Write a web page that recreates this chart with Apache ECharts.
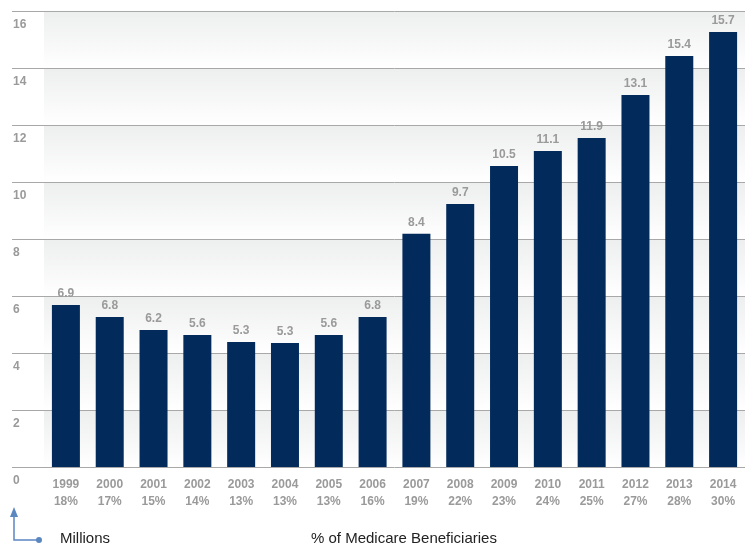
<!DOCTYPE html>
<html>
<head>
<meta charset="utf-8">
<script src="https://cdn.jsdelivr.net/npm/echarts@6/dist/echarts.min.js"></script>
<style>
  html, body { margin: 0; padding: 0; background: #fff; }
  #chart { width: 745px; height: 547px; }
</style>
</head>
<body>
<div id="chart"></div>
<script>
// data
var years = ['1999','2000','2001','2002','2003','2004','2005','2006','2007','2008','2009','2010','2011','2012','2013','2014'];
var pctBeneficiaries = ['18%','17%','15%','14%','13%','13%','13%','16%','19%','22%','23%','24%','25%','27%','28%','30%'];
// bar heights as drawn (millions)
var barHeights = [5.68, 5.26, 4.81, 4.63, 4.39, 4.35, 4.63, 5.26, 8.18, 9.23, 10.56, 11.09, 11.54, 13.05, 14.42, 15.26];
// numbers printed above the bars
var barLabels = ['6.9','6.8','6.2','5.6','5.3','5.3','5.6','6.8','8.4','9.7','10.5','11.1','11.9','13.1','15.4','15.7'];
var yTicks = [0, 2, 4, 6, 8, 10, 12, 14, 16];

var gray = '#9a9a9a';
var navy = '#022b5c';
var blue = '#5b87c1';
var gridColor = '#a8a8a8';
var labelFont = '"Liberation Sans Narrow", "Liberation Sans", Arial, sans-serif';

var chart = echarts.init(document.getElementById('chart'));

function bandFill() {
    return new echarts.graphic.LinearGradient(0, 0, 0, 1, [
        { offset: 0, color: '#edeeee' },
        { offset: 1, color: '#ffffff' }
    ]);
}

var option = {
    animation: false,
    grid: [
        // narrow strip on the left that carries the tick labels
        { left: 12, width: 32, top: 11, bottom: 80 },
        // plot area with the bars
        { left: 44, width: 704, top: 11, bottom: 80 }
    ],
    xAxis: [
        { gridIndex: 0, type: 'value', show: false, min: 0, max: 1 },
        {
            gridIndex: 1,
            type: 'category',
            data: years,
            axisLine: { show: false },
            axisTick: { show: false },
            axisLabel: {
                margin: 9,
                color: gray,
                fontFamily: labelFont,
                fontWeight: 'bold',
                fontSize: 12,
                lineHeight: 17,
                formatter: function (v, i) {
                    return v + '\n' + pctBeneficiaries[i];
                }
            }
        }
    ],
    yAxis: [
        {
            gridIndex: 0,
            type: 'value',
            min: yTicks[0],
            max: yTicks[yTicks.length - 1],
            interval: 2,
            axisLine: { show: false },
            axisTick: { show: false },
            splitLine: { show: true, lineStyle: { color: gridColor, width: 1 } },
            axisLabel: {
                inside: true,
                margin: 1,
                verticalAlign: 'top',
                padding: [8, 0, 0, 0],
                color: gray,
                fontFamily: labelFont,
                fontWeight: 'bold',
                fontSize: 12
            }
        },
        {
            gridIndex: 1,
            type: 'value',
            min: 0,
            max: 16,
            interval: 2,
            axisLine: { show: false },
            axisTick: { show: false },
            axisLabel: { show: false },
            splitLine: { show: true, lineStyle: { color: gridColor, width: 1 } },
            splitArea: { show: true, areaStyle: { color: [bandFill(), bandFill()] } }
        }
    ],
    series: [
        {
            type: 'bar',
            xAxisIndex: 1,
            yAxisIndex: 1,
            data: barHeights,
            barWidth: 28,
            itemStyle: { color: navy },
            label: {
                show: true,
                position: 'top',
                distance: 5,
                color: gray,
                fontFamily: labelFont,
                fontWeight: 'bold',
                fontSize: 12,
                formatter: function (p) {
                    return barLabels[p.dataIndex];
                }
            }
        }
    ],
    graphic: [
        // small axis icon in the bottom-left corner
        { type: 'polyline', shape: { points: [[14, 516], [14, 540], [39, 540]] }, style: { stroke: blue, lineWidth: 1.5, fill: null } },
        { type: 'polygon', shape: { points: [[14, 507], [10, 517], [18, 517]] }, style: { fill: blue } },
        { type: 'circle', shape: { cx: 39, cy: 540, r: 3 }, style: { fill: blue } },
        {
            type: 'text', left: 60, top: 531,
            style: { text: 'Millions', fill: '#222', font: '15px "Liberation Sans", Arial, sans-serif' }
        },
        {
            type: 'text', left: 311, top: 531,
            style: { text: '% of Medicare Beneficiaries', fill: '#222', font: '15px "Liberation Sans", Arial, sans-serif' }
        }
    ]
};

chart.setOption(option);
</script>
</body>
</html>
